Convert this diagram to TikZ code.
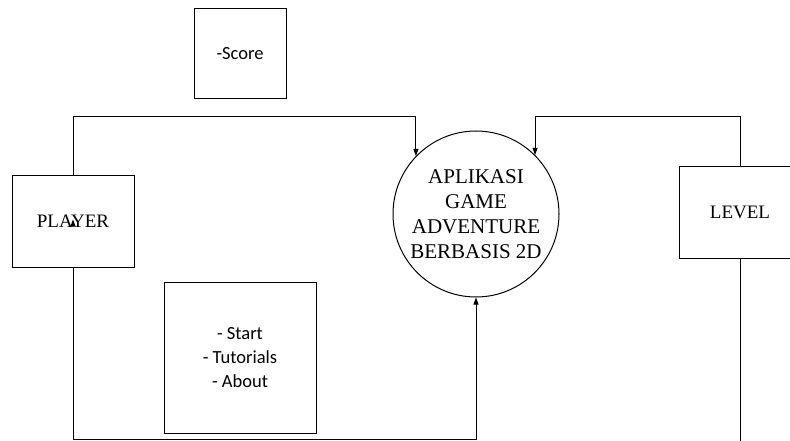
\documentclass[tikz,border=0pt]{standalone}
\usepackage{fontspec}
\setmainfont{Liberation Serif}
\newfontfamily\calibri{Carlito}
\usetikzlibrary{arrows.meta}
\begin{document}
\begin{tikzpicture}[x=1pt,y=-1pt,
  ent/.style={draw,line width=1pt,fill=white,inner sep=0pt,minimum width=122pt,minimum height=91pt,font=\fontsize{19}{22}\selectfont},
  note/.style={draw,line width=1pt,fill=white,inner sep=0pt,align=center,font=\calibri\fontsize{18.5}{24}\selectfont},
  proc/.style={draw,circle,line width=1pt,fill=white,inner sep=0pt,minimum size=166pt,align=center,font=\fontsize{21}{25}\selectfont},
  flow/.style={line width=0.9pt},
  arr/.style={flow,-{Triangle[length=7pt,width=5pt]}}
]
\clip (0,0) rectangle (790,441);
\fill[white] (0,0) rectangle (790,441);
\node[proc] (circ) at (476,214) {APLIKASI\\GAME\\ADVENTURE\\BERBASIS 2D};
\node[ent] (player) at (73,221.5) {PLAYER};
\node[ent] (level) at (740,212.5) {LEVEL};
\node[note,minimum width=92pt,minimum height=90pt] (score) at (240,54) {-Score};
\node[note,minimum width=152pt,minimum height=151pt] (menu) at (240,357.5) {- Start\\- Tutorials\\- About};
\coordinate (ytop) at (0,116);
\coordinate (ybot) at (0,439);
\coordinate (yedge) at (0,445);
\coordinate (levelend) at (level.south |- yedge);
\draw[arr] (player.north) |- (circ.136 |- ytop) -- (circ.136);
\draw[arr] (level.north) |- (circ.45 |- ytop) -- (circ.45);
\draw[arr] (player.south) |- (circ.south |- ybot) -- (circ.south);
\draw[flow] (level.south) -- (levelend);
\draw[arr] ([yshift=-3pt]player.center) -- ([yshift=2pt]player.center);
\end{tikzpicture}
\end{document}
